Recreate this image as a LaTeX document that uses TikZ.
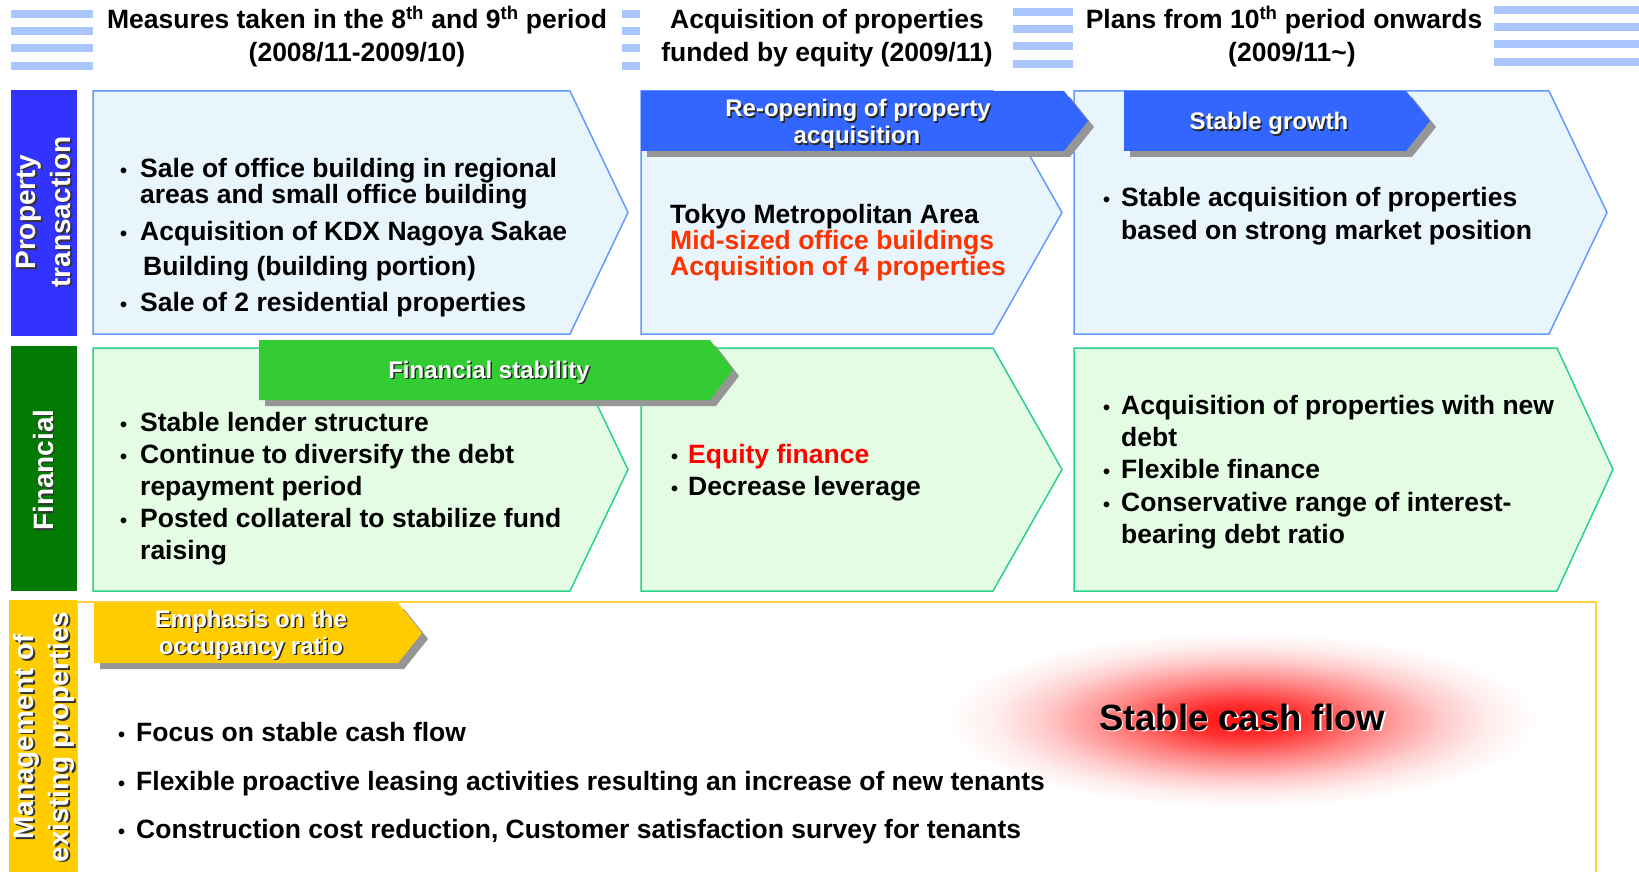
\documentclass[tikz,border=0pt]{standalone}
\usepackage{fontspec}
\setmainfont{Liberation Sans}
\usetikzlibrary{calc}
\definecolor{barblue}{RGB}{51,51,255}
\definecolor{bargreen}{RGB}{0,122,0}
\definecolor{baryellow}{RGB}{255,204,0}
\definecolor{rAfill}{RGB}{232,245,252}
\definecolor{rAline}{RGB}{102,153,255}
\definecolor{rBfill}{RGB}{228,252,228}
\definecolor{rBline}{RGB}{40,210,140}
\definecolor{bnblue}{RGB}{51,102,255}
\definecolor{bngreen}{RGB}{51,204,51}
\definecolor{stripecol}{RGB}{170,198,255}
\definecolor{txtred}{RGB}{255,51,0}
\definecolor{eqred}{RGB}{255,0,0}
\definecolor{shgray}{RGB}{150,150,150}
\definecolor{boxyellow}{RGB}{255,210,60}
\pgfdeclareradialshading{glowshade}{\pgfpoint{0bp}{0bp}}{color(0bp)=(red!95); color(5bp)=(red!80); color(11bp)=(red!48); color(17bp)=(red!20); color(21bp)=(red!7); color(25bp)=(white); color(50bp)=(white)}
\newcommand\chev[6]{% left, top, right, tip, bottom, style
  \draw[#6] (#1,#2) -- (#3,#2) -- (#4,{(#2+#5)/2}) -- (#3,#5) -- (#1,#5) -- cycle;}
\newcommand\banner[6]{% left, top, flat right, tip, bottom, fill
  \fill[shgray] (#1+6,#2+6) -- (#3+6,#2+6) -- (#4+6,{(#2+#5)/2+6}) -- (#3+6,#5+6) -- (#1+6,#5+6) -- cycle;
  \fill[#6] (#1,#2) -- (#3,#2) -- (#4,{(#2+#5)/2}) -- (#3,#5) -- (#1,#5) -- cycle;}
\newcommand\shtext[6]{% name, x, y, style, shadow colour, text
  \node[#4, text=#5] (#1s) at (#2+1.5,#3+1.5) {#6};
  \node[#4] (#1) at (#2,#3) {#6};}
\begin{document}
\begin{tikzpicture}[x=1pt,y=-1pt,
  body/.style={inner sep=0pt, anchor=base west, font=\fontsize{26.5}{31}\selectfont\bfseries},
  bul/.style={inner sep=0pt, anchor=base west, font=\fontsize{20}{20}\selectfont\bfseries},
  head/.style={inner sep=0pt, anchor=base, font=\fontsize{26.5}{31}\selectfont\bfseries},
  bntext/.style={inner sep=0pt, anchor=base, text=white, font=\fontsize{24}{28}\selectfont\bfseries},
  lbl/.style={inner sep=0pt, rotate=90, align=center, text=white, font=\fontsize{28}{35}\selectfont\bfseries},
  rowA/.style={draw=rAline, fill=rAfill, line width=1.5pt},
  rowB/.style={draw=rBline, fill=rBfill, line width=1.5pt}]
\useasboundingbox (0,0) rectangle (1639,872);
\fill[white] (0,0) rectangle (1639,872);
% header stripes
\foreach \xa/\xb/\ys in {11/93/10, 622/640/10, 1013/1073/8, 1494/1639/6}
  \foreach \k in {0,1,2,3}
    \fill[stripecol] (\xa,\ys+\k*17.2) rectangle (\xb,\ys+\k*17.2+8);
% headers
\node[head] (h1a) at (357,29) {Measures taken in the 8\textsuperscript{th} and 9\textsuperscript{th} period};
\node[head] (h1b) at (357,62) {(2008/11-2009/10)};
\node[head] (h2a) at (827,29) {Acquisition of properties};
\node[head] (h2b) at (827,62) {funded by equity (2009/11)};
\node[head] (h3a) at (1284,29) {Plans from 10\textsuperscript{th} period onwards};
\node[head] (h3b) at (1284,62) {\hspace{0.6em}(2009/11\textasciitilde)\hspace{0.6em}};
% row 3 box
\draw[boxyellow, line width=1.2pt, fill=white] (77,602) rectangle (1596,890);
% side bars
\fill[barblue] (11,90) rectangle (77,336);
\fill[bargreen] (11,346) rectangle (77,591);
\fill[baryellow] (9,600) rectangle (77,880);
\shtext{lp}{44}{212}{lbl}{black!80}{Property\\transaction}
\shtext{lf}{43}{470}{lbl}{black!80}{Financial}
\shtext{lm}{44}{737}{lbl}{black!80}{Management of\\existing properties}
% row 1 chevrons
\chev{93}{91}{570}{628}{334}{rowA}
\chev{641}{91}{993}{1062}{334}{rowA}
\chev{1074}{91}{1549}{1607}{334}{rowA}
% row 2 chevrons
\chev{93}{348}{570}{628}{591}{rowB}
\chev{641}{348}{993}{1062}{591}{rowB}
\chev{1074}{348}{1557}{1613}{591}{rowB}
% banners
\banner{641}{91}{1064}{1088}{151}{bnblue}
\banner{1124}{91}{1406}{1430}{151}{bnblue}
\banner{259}{340}{710}{733}{400}{bngreen}
% glow
\shade[shading=glowshade] (1242,720) ellipse (295 and 88);
\banner{94}{603}{398}{422}{663}{baryellow}
% banner texts
\shtext{bra}{858}{117}{bntext}{black!85}{Re-opening of property}
\shtext{brb}{857}{144}{bntext}{black!85}{acquisition}
\shtext{bsg}{1269}{130}{bntext}{black!85}{Stable growth}
\shtext{bfs}{489}{378}{bntext}{black!85}{Financial stability}
\shtext{bea}{251}{627}{bntext}{black!85}{Emphasis on the}
\shtext{beb}{251}{654}{bntext}{black!85}{occupancy ratio}
% row 1 texts
\node[bul] (ua1) at (120,178) {•};
\node[body] (ta1) at (140,178) {Sale of office building in regional};
\node[body] (ta2) at (140,204) {areas and small office building};
\node[bul] (ua2) at (120,240) {•};
\node[body] (ta3) at (140,240) {Acquisition of KDX Nagoya Sakae};
\node[body] (ta4) at (143,275) {Building (building portion)};
\node[bul] (ua3) at (120,311) {•};
\node[body] (ta5) at (140,311) {Sale of 2 residential properties};
\node[body] (tb1) at (670,223) {Tokyo Metropolitan Area};
\node[body, text=txtred] (tb2) at (670,249) {Mid-sized office buildings};
\node[body, text=txtred] (tb3) at (670,275) {Acquisition of 4 properties};
\node[bul] (uc1) at (1103,207) {•};
\node[body] (tc1) at (1121,207) {Stable acquisition of properties};
\node[body] (tc2) at (1121,239) {based on strong market position};
% row 2 texts
\node[bul] (ud1) at (120,431) {•};
\node[body] (td1) at (140,431) {Stable lender structure};
\node[bul] (ud2) at (120,463) {•};
\node[body] (td2) at (140,463) {Continue to diversify the debt};
\node[body] (td3) at (140,495) {repayment period};
\node[bul] (ud3) at (120,527) {•};
\node[body] (td4) at (140,527) {Posted collateral to stabilize fund};
\node[body] (td5) at (140,559) {raising};
\node[bul] (ue1) at (671,463) {•};
\node[body, text=eqred] (te1) at (688,463) {Equity finance};
\node[bul] (ue2) at (671,495) {•};
\node[body] (te2) at (688,495) {Decrease leverage};
\node[bul] (uf1) at (1103,414) {•};
\node[body] (tf1) at (1121,414) {Acquisition of properties with new};
\node[body] (tf2) at (1121,446) {debt};
\node[bul] (uf2) at (1103,478) {•};
\node[body] (tf3) at (1121,478) {Flexible finance};
\node[bul] (uf3) at (1103,511) {•};
\node[body] (tf4) at (1121,511) {Conservative range of interest-};
\node[body] (tf5) at (1121,543) {bearing debt ratio};
% row 3 texts
\node[bul] (ug1) at (118,741) {•};
\node[body] (tg1) at (136,741) {Focus on stable cash flow};
\node[bul] (ug2) at (118,790) {•};
\node[body] (tg2) at (136,790) {Flexible proactive leasing activities resulting an increase of new tenants};
\node[bul] (ug3) at (118,838) {•};
\node[body] (tg3) at (136,838) {Construction cost reduction, Customer satisfaction survey for tenants};
\shtext{scf}{1242}{730}{inner sep=0pt, anchor=base, text=black, font=\fontsize{36.5}{40}\selectfont\bfseries}{white}{Stable cash flow}
\end{tikzpicture}
\end{document}
